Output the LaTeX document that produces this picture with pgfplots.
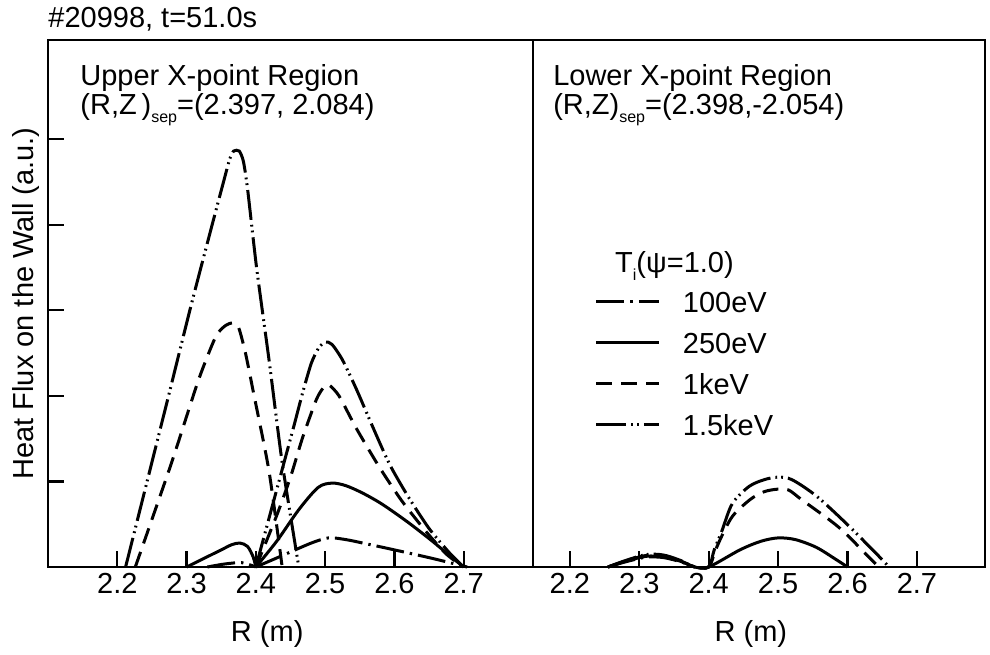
\documentclass[border=0pt]{standalone}
\usepackage{fontspec}
\setmainfont{Liberation Sans}
\usepackage{pgfplots}
\pgfplotsset{compat=1.18}

\pgfplotsset{
  panel/.style={
    scale only axis, height=263.5pt, ymin=0, ymax=6.157,
    clip=false, no markers,
    axis line style={line width=1.2pt},
    tick style={line width=1.1pt, black},
    major tick length=8pt, tick align=inside,
    xtick pos=bottom, ytick pos=left,
    xtick={2.2,2.3,2.4,2.5,2.6,2.7},
    /pgf/number format/fixed, /pgf/number format/fixed zerofill,
    /pgf/number format/precision=1, /pgf/number format/assume math mode=true,
    tick label style={font=\fontsize{14.5}{17}\selectfont},
    xticklabel style={inner sep=0pt, yshift=-3pt},
    label style={font=\fontsize{14.5}{17}\selectfont},
    xlabel={R (m)},
  },
  s100/.style={line width=1.5pt, dash pattern=on 14pt off 3pt on 1.2pt off 3pt},
  s250/.style={line width=1.5pt},
  s1k/.style={line width=1.5pt, dash pattern=on 8pt off 4.5pt},
  s15k/.style={line width=1.5pt, dash pattern=on 15pt off 2.5pt on 0.9pt off 2pt on 0.9pt off 2.5pt},
}

\begin{document}
\begin{tikzpicture}[font=\fontsize{14.5}{17}\selectfont]
\useasboundingbox (-24pt,-43.5pt) rectangle (471pt,283.5pt);

% upper x-point
\begin{axis}[panel, at={(0pt,0pt)}, anchor=south west,
    width=242.5pt, xmin=2.1, xmax=2.8,
    ytick={1,2,3,4,5}, yticklabels={},
    ylabel={Heat Flux on the Wall (a.u.)},
    ylabel style={at={(axis description cs:-0.0309,0.5)}, anchor=base},
    xlabel style={at={(axis description cs:0.452,-0.1423)}, anchor=base},
]
\addplot[s15k, smooth, tension=0.4] coordinates {
  (2.212,0) (2.27,1.87) (2.306,3.04) (2.336,3.97) (2.354,4.52) (2.362,4.76)
  (2.368,4.86) (2.376,4.86) (2.382,4.74) (2.388,4.42) (2.401,3.5) (2.419,2.42) (2.438,1.22) (2.462,0)
};
\addplot[s1k, smooth, tension=0.4] coordinates {
  (2.226,0) (2.278,1.21) (2.317,2.18) (2.342,2.69) (2.356,2.82) (2.366,2.85)
  (2.375,2.8) (2.385,2.5) (2.397,2.02) (2.419,1.12) (2.438,0)
};
\addplot[s250, smooth, tension=0.5] coordinates {
  (2.30,0) (2.325,0.1) (2.35,0.2) (2.365,0.26) (2.377,0.28) (2.388,0.24) (2.396,0.12) (2.40,0)
};
\addplot[s100, smooth, tension=0.5] coordinates {
  (2.33,0) (2.355,0.035) (2.38,0.05) (2.40,0)
};
\addplot[s15k, smooth, tension=0.4] coordinates {
  (2.40,0) (2.42,0.6) (2.44,1.2) (2.455,1.65) (2.468,2.05) (2.48,2.38) (2.49,2.55)
  (2.50,2.63) (2.51,2.6) (2.525,2.42) (2.545,2.08) (2.568,1.65) (2.593,1.2)
  (2.62,0.82) (2.65,0.45) (2.68,0.16) (2.70,0)
};
\addplot[s1k, smooth, tension=0.4] coordinates {
  (2.40,0) (2.43,0.6) (2.45,1.05) (2.467,1.5) (2.487,1.95) (2.497,2.09) (2.505,2.13)
  (2.52,2.0) (2.545,1.62) (2.578,1.17) (2.61,0.78) (2.645,0.42) (2.675,0.15) (2.70,0)
};
\addplot[s250, smooth, tension=0.5] coordinates {
  (2.40,0) (2.43,0.3) (2.462,0.67) (2.49,0.93) (2.51,0.98) (2.53,0.95) (2.555,0.86)
  (2.583,0.73) (2.62,0.52) (2.655,0.3) (2.68,0.13) (2.70,0)
};
\addplot[s100, smooth, tension=0.5] coordinates {
  (2.40,0) (2.44,0.14) (2.48,0.28) (2.505,0.34) (2.53,0.32) (2.56,0.27) (2.60,0.2)
  (2.655,0.1) (2.705,0)
};
\node[anchor=base west, inner sep=0pt] at (rel axis cs:0,1.0228) {\#20998, t=51.0s};
\node[anchor=base west, inner sep=0pt] at (rel axis cs:0.066,0.9146) {Upper X-point Region};
\node[anchor=base west, inner sep=0pt] at (rel axis cs:0.066,0.8577)
  {(R,Z\,)\raisebox{-4pt}{\fontsize{8}{8}\selectfont sep}=(2.397, 2.084)};
\end{axis}

% lower x-point
\begin{axis}[panel, at={(242.5pt,0pt)}, anchor=south west,
    width=226pt, xmin=2.147, xmax=2.798,
    ytick=\empty,
    xlabel style={at={(axis description cs:0.482,-0.1423)}, anchor=base},
    legend image code/.code={\draw[#1] (0pt,0pt) -- (31.5pt,0pt);},
    legend cell align=left,
    legend style={draw=none, fill=none, inner sep=0pt, at={(0.136,0.5256)},
      anchor=north west, row sep=9.5pt, column sep=11pt,
      nodes={inner sep=0pt, text height=11pt, text depth=0pt,
             font=\fontsize{14.5}{17}\selectfont}},
]
\addplot[s100, smooth, tension=0.5] coordinates {
  (2.255,0) (2.28,0.06) (2.31,0.115) (2.335,0.11) (2.36,0.06) (2.38,0)
};
\addlegendentry{100eV}
\addplot[s250, smooth, tension=0.5] coordinates {
  (2.255,0) (2.28,0.065) (2.31,0.125) (2.335,0.12) (2.36,0.065) (2.38,0) (2.40,0)
  (2.445,0.2) (2.475,0.3) (2.50,0.34) (2.525,0.32) (2.555,0.23) (2.583,0.09) (2.60,0)
};
\addlegendentry{250eV}
\addplot[s1k, smooth, tension=0.5] coordinates {
  (2.255,0) (2.28,0.07) (2.31,0.135) (2.335,0.13) (2.36,0.07) (2.38,0) (2.40,0)
  (2.41,0.2) (2.42,0.38) (2.435,0.6) (2.46,0.79) (2.48,0.88) (2.50,0.91) (2.515,0.9)
  (2.535,0.78) (2.588,0.46) (2.635,0.08) (2.645,0)
};
\addlegendentry{1keV}
\addplot[s15k, smooth, tension=0.5] coordinates {
  (2.255,0) (2.28,0.075) (2.31,0.145) (2.335,0.14) (2.36,0.075) (2.38,0) (2.40,0)
  (2.408,0.2) (2.419,0.42) (2.434,0.74) (2.458,0.94) (2.48,1.02) (2.50,1.05)
  (2.52,1.02) (2.555,0.83) (2.598,0.51) (2.641,0.16) (2.66,0)
};
\addlegendentry{1.5keV}
\node[anchor=base west, inner sep=0pt] at (rel axis cs:0.044,0.9146) {Lower X-point Region};
\node[anchor=base west, inner sep=0pt] at (rel axis cs:0.044,0.8577)
  {(R,Z)\raisebox{-4pt}{\fontsize{8}{8}\selectfont sep}=(2.398,-2.054)};
\node[anchor=base west, inner sep=0pt] at (rel axis cs:0.181,0.558)
  {T\raisebox{-4pt}{\fontsize{8}{8}\selectfont i}(ψ=1.0)};
\end{axis}
\end{tikzpicture}
\end{document}
